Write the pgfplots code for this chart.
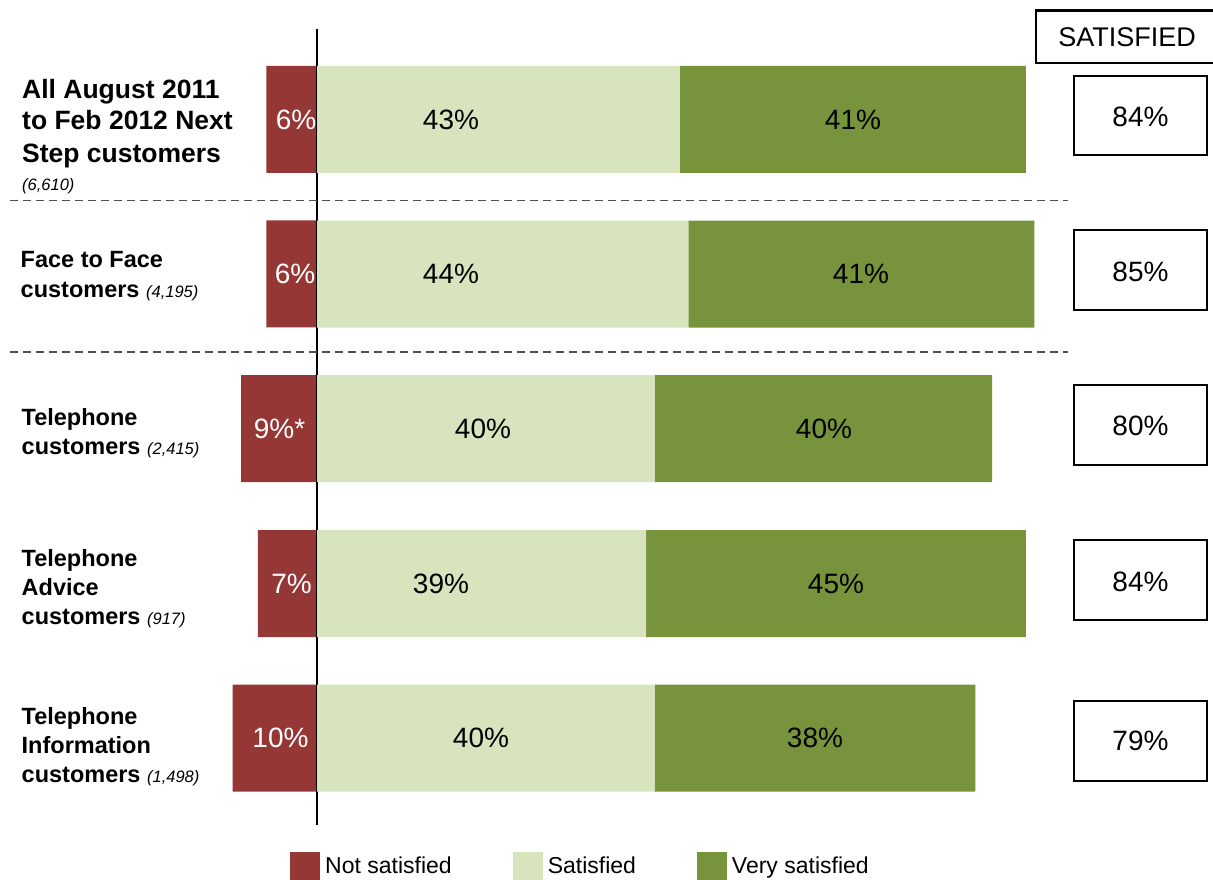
\documentclass[border=0pt]{standalone}
\usepackage{fontspec}
\setmainfont{Liberation Sans}
\usepackage{pgfplots}
\usepackage{pgfplotstable}
\pgfplotsset{compat=1.18}
\definecolor{nsred}{HTML}{953735}
\definecolor{satg}{HTML}{D7E4BD}
\definecolor{vsg}{HTML}{77933C}
\definecolor{dashgray}{HTML}{505050}
\pgfplotsset{
 base/.style={hide axis, scale only axis, width=1213pt, height=880pt,
   xmin=-37.56, xmax=106.16, ymin=0, ymax=880, y dir=reverse, clip=false,
   anchor=south west, at={(0pt,0pt)}},
 sqlegend/.style={legend image code/.code={\fill[##1] (0pt,-14pt) rectangle (30pt,14pt);}}
}
\pgfplotstableread{
y ns sat vsat
119.5 -6 43 41
274 -6 44 41
428.5 -9 40 40
583.5 -7 39 45
738 -10 40 38
}\data
\newcommand\fs[2]{\fontsize{#1}{#2}\selectfont}
\begin{document}
\begin{tikzpicture}
\begin{axis}[base, xbar, bar width=107]
\addplot[fill=nsred, draw=none] table[x=ns,y=y]{\data};
\end{axis}
\begin{axis}[base, xbar stacked, bar width=107,
  legend style={at={(axis cs:-3.2,866)}, anchor=west, draw=none, fill=none,
    inner sep=0pt, legend columns=3, font=\fs{23}{27},
    nodes={inner sep=5pt},
    /tikz/every even column/.append style={column sep=56pt}}]
\addlegendimage{sqlegend, fill=nsred, draw=none}
\addlegendentry{Not satisfied}
\addplot[fill=satg, draw=none, sqlegend] table[x=sat,y=y]{\data};
\addlegendentry{Satisfied}
\addplot[fill=vsg, draw=none, sqlegend] table[x=vsat,y=y]{\data};
\addlegendentry{Very satisfied}
\draw[line width=1.3pt] (axis cs:0,29) -- (axis cs:0,825);
\end{axis}
\begin{scope}[x=1pt,y=-1pt,shift={(0pt,880pt)}]
% dashed separators
\draw[dashgray, line width=1.3pt, dash pattern=on 8pt off 5pt] (10,200.5) -- (1068,200.5);
\draw[dashgray, line width=1.3pt, dash pattern=on 8pt off 5pt] (10,352) -- (1068,352);
% row labels
\begin{scope}[every node/.style={anchor=base west, inner sep=0pt}]
\node[font=\bfseries\fs{26.5}{32}] at (22,98.5) {All August 2011};
\node[font=\bfseries\fs{26.5}{32}] at (22,130) {to Feb 2012 Next};
\node[font=\bfseries\fs{26.5}{32}] at (22,163) {Step customers};
\node[font=\itshape\fs{16.5}{20}] at (22,190.5) {(6,610)};
\node[font=\bfseries\fs{23.5}{28}] at (20.5,268) {Face to Face};
\node[font=\bfseries\fs{23.5}{28}] at (20.5,298) {customers \mdseries\itshape\fs{16.5}{20}(4,195)};
\node[font=\bfseries\fs{23.5}{28}] at (21.5,426) {Telephone};
\node[font=\bfseries\fs{23.5}{28}] at (21.5,455) {customers \mdseries\itshape\fs{16.5}{20}(2,415)};
\node[font=\bfseries\fs{23.5}{28}] at (21.5,566.5) {Telephone};
\node[font=\bfseries\fs{23.5}{28}] at (21.5,595.5) {Advice};
\node[font=\bfseries\fs{23.5}{28}] at (21.5,625) {customers \mdseries\itshape\fs{16.5}{20}(917)};
\node[font=\bfseries\fs{23.5}{28}] at (21.5,725) {Telephone};
\node[font=\bfseries\fs{23.5}{28}] at (21.5,753.5) {Information};
\node[font=\bfseries\fs{23.5}{28}] at (21.5,782.5) {customers \mdseries\itshape\fs{16.5}{20}(1,498)};
\end{scope}
% value labels
\begin{scope}[every node/.style={anchor=base, inner sep=0pt, font=\fs{28}{32}}]
\node[white] at (296,129.5) {6\%};
\node[white] at (295,284) {6\%};
\node[white] at (279.5,438.5) {9\%*};
\node[white] at (291.5,593.5) {7\%};
\node[white] at (280.5,748) {10\%};
\node at (451,129.5) {43\%};
\node at (451,284) {44\%};
\node at (483,438.5) {40\%};
\node at (441,593.5) {39\%};
\node at (481,748) {40\%};
\node at (853,129.5) {41\%};
\node at (861,284) {41\%};
\node at (824,438.5) {40\%};
\node at (836,593.5) {45\%};
\node at (815,748) {38\%};
% satisfied boxes
\node at (1140.5,127) {84\%};
\node at (1140.5,282) {85\%};
\node at (1140.5,436) {80\%};
\node at (1140.5,592) {84\%};
\node at (1140.5,751) {79\%};
\node[font=\fs{27}{32}] at (1127,47) {SATISFIED};
\end{scope}
\begin{scope}[line width=2.6pt]
\draw (1036,10.5) rectangle (1216,63);
\draw (1074,76) rectangle (1207,155);
\draw (1074,230) rectangle (1207,310);
\draw (1074,385) rectangle (1207,465);
\draw (1074,540) rectangle (1207,620);
\draw (1074,701) rectangle (1207,781);
\end{scope}
\end{scope}
\pgfresetboundingbox
\path (0,0) rectangle (1213pt,880pt);
\end{tikzpicture}
\end{document}
